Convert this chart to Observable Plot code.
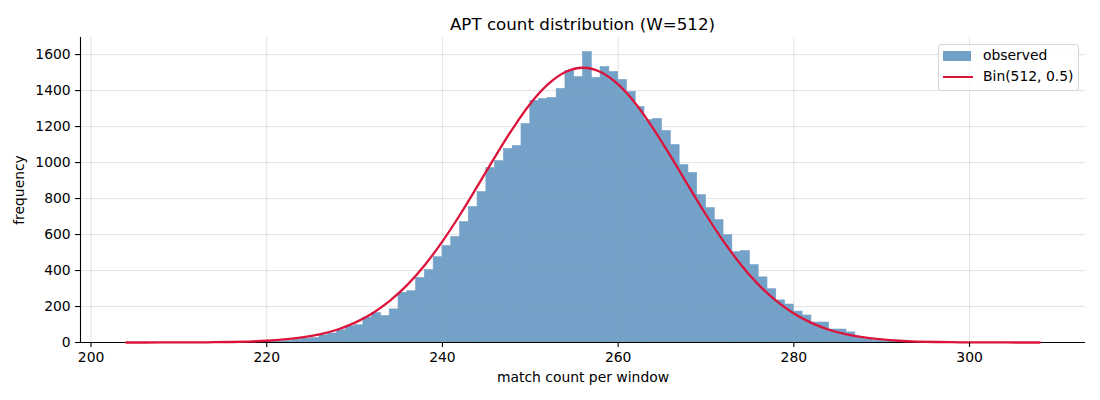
<!DOCTYPE html>
<html>
<head>
<meta charset="utf-8">
<script src="https://cdn.jsdelivr.net/npm/d3@7"></script>
<script src="https://cdn.jsdelivr.net/npm/@observablehq/plot@0.6"></script>
<style>
  body { margin: 0; background: white; font-family: "DejaVu Sans", sans-serif; }
  #wrap { position: relative; width: 1100px; height: 400px; }
  #title { height: 30px; position: relative; }
  #title span { position: absolute; left: 80px; width: 1005px; top: 14px; text-align: center; font-size: 16.7px; }
  #legend { position: absolute; left: 938px; top: 44px; width: 139px; height: 45px; border: 1px solid #d6d6d6; border-radius: 3px; background: rgba(255,255,255,0.8); font-size: 13.9px; }
  .sw { position: absolute; }
  .lt { position: absolute; left: 44px; }
</style>
</head>
<body>
<div id="wrap">
  <div id="title"><span>APT count distribution (W=512)</span></div>
  <div id="chart"></div>
  <div id="legend">
    <div class="sw" style="left:4px;top:6px;width:28px;height:10px;background:#74a1c7"></div>
    <div class="lt" style="top:2px">observed</div>
    <div class="sw" style="left:4px;top:31px;width:30px;height:2.4px;background:crimson"></div>
    <div class="lt" style="top:23px">Bin(512, 0.5)</div>
  </div>
</div>
<script>
// observed histogram: bin start values and counts
const binStart = 220;
const observedCounts = [
  2, 4, 8, 15, 22, 24, 40, 50, 68, 90,      // 220-229
  96, 139, 163, 147, 184, 276, 285, 358, 402, 474, // 230-239
  536, 586, 669, 753, 836, 969, 1008, 1075, 1092, 1214, // 240-249
  1342, 1353, 1359, 1409, 1509, 1475, 1614, 1470, 1531, 1503, // 250-259
  1459, 1392, 1309, 1236, 1242, 1175, 1097, 986, 942, 819, // 260-269
  747, 680, 597, 502, 508, 430, 362, 296, 234, 211, // 270-279
  172, 150, 111, 111, 72, 72, 56, 30, 18, 10, // 280-289
  6, 3 // 290-291
];
// expected Bin(512, 0.5) curve, read at every 2nd count
const curveK = d3.range(204, 309, 2);
const curveValues = [
  0, 0.1, 0.2, 0.4, 0.8, 1.6, 2.9, 5.4, 9.7, 17,
  28, 45, 71, 109, 161, 231, 320, 431, 562, 710,
  870, 1033, 1189, 1327, 1434, 1503, 1527, 1503, 1434, 1327,
  1189, 1033, 870, 710, 562, 431, 320, 231, 161, 109,
  71, 45, 28, 17, 9.7, 5.4, 2.9, 1.6, 0.8, 0.4,
  0.2, 0.1, 0
];
const xTicks = [200, 220, 240, 260, 280, 300];
const yTicks = [0, 200, 400, 600, 800, 1000, 1200, 1400, 1600];

const bins = observedCounts.map((c, i) => ({x0: binStart + i, x1: binStart + i + 1, count: c}));
const curve = curveK.map((k, i) => ({k, v: curveValues[i]}));

const xDomain = [198.8, 313.2];
const chart = Plot.plot({
  width: 1100,
  height: 370,
  marginTop: 7,
  marginBottom: 58,
  marginLeft: 80,
  marginRight: 15,
  style: {fontFamily: "DejaVu Sans", fontSize: "13.9px", color: "black", background: "white", overflow: "visible"},
  x: {domain: xDomain},
  y: {domain: [0, 1695]},
  marks: [
    Plot.gridX(xTicks, {stroke: "#b0b0b0", strokeOpacity: 0.35, strokeWidth: 0.8}),
    Plot.gridY(yTicks, {stroke: "#b0b0b0", strokeOpacity: 0.35, strokeWidth: 0.8}),
    Plot.rectY(bins, {x1: "x0", x2: "x1", y: "count", fill: "#74a1c7", stroke: "#74a1c7", strokeWidth: 0.6, inset: 0}),
    Plot.gridX(xTicks, {stroke: "#b0b0b0", strokeOpacity: 0.12, strokeWidth: 0.8}),
    Plot.gridY(yTicks, {stroke: "#b0b0b0", strokeOpacity: 0.12, strokeWidth: 0.8}),
    Plot.ruleX([xDomain[0]], {stroke: "black", strokeWidth: 1.1}),
    Plot.ruleY([0], {stroke: "black", strokeWidth: 1.1}),
    Plot.line(curve, {x: "k", y: "v", stroke: "crimson", strokeWidth: 2.3, curve: "monotone-x"}),
    Plot.axisX(xTicks, {tickSize: 4.9, tickPadding: 4.5, strokeWidth: 1.1, tickFormat: d => String(d), label: "match count per window", labelAnchor: "center", labelArrow: "none", labelOffset: 39}),
    Plot.axisY(yTicks, {tickSize: 4.9, tickPadding: 4.9, strokeWidth: 1.1, tickFormat: d => String(d), label: "frequency", labelAnchor: "center", labelArrow: "none", labelOffset: 66})
  ]
});
document.getElementById("chart").appendChild(chart);
</script>
</body>
</html>
